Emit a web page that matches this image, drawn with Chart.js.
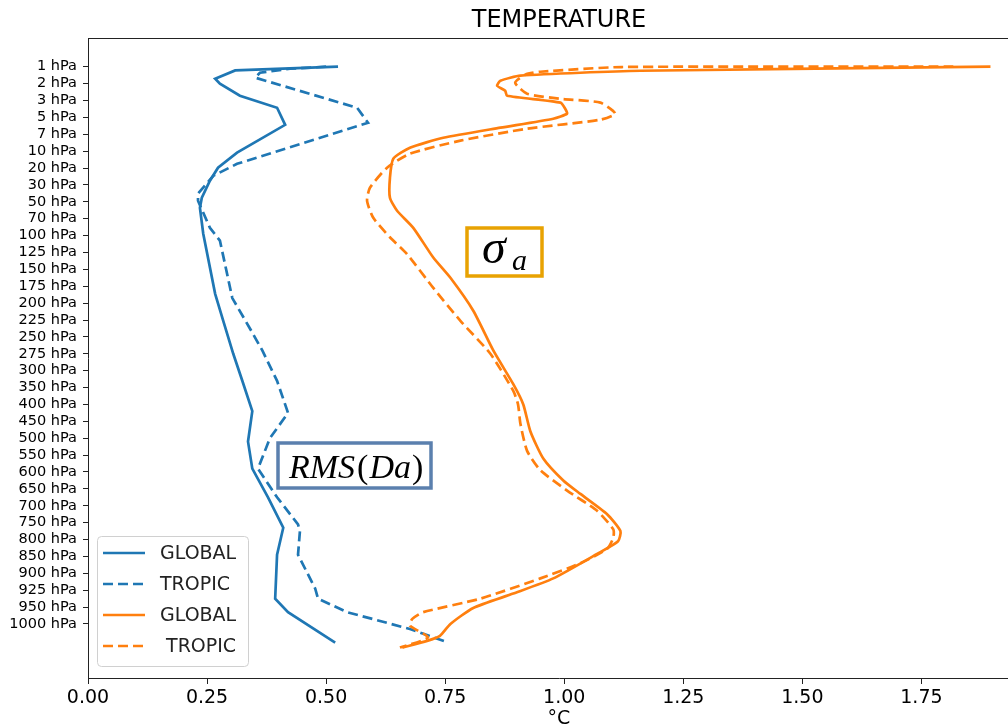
<!DOCTYPE html>
<html>
<head>
<meta charset="utf-8">
<script src="https://cdn.jsdelivr.net/npm/chart.js@4.4.1/dist/chart.umd.min.js"></script>
<style>
  html, body { margin: 0; padding: 0; background: #fff; overflow: hidden; }
  #wrap { width: 1008px; height: 726px; overflow: hidden; }
</style>
</head>
<body>
<div id="wrap"><canvas id="chart" width="1040" height="726"></canvas></div>
<script>
const levels = ['1 hPa', '2 hPa', '3 hPa', '5 hPa', '7 hPa', '10 hPa', '20 hPa', '30 hPa', '50 hPa', '70 hPa',
    '100 hPa', '125 hPa', '150 hPa', '175 hPa', '200 hPa', '225 hPa', '250 hPa', '275 hPa', '300 hPa', '350 hPa',
    '400 hPa', '450 hPa', '500 hPa', '550 hPa', '600 hPa', '650 hPa', '700 hPa', '750 hPa', '800 hPa', '850 hPa',
    '900 hPa', '925 hPa', '950 hPa', '1000 hPa'];

const xTicks = [0, 0.25, 0.5, 0.75, 1.0, 1.25, 1.5, 1.75];

// position along the level axis (0 = 1 hPa ... 33 = 1000 hPa) and value in °C
const rmsGlobalPos = [0, 0.22, 0.71, 1.01, 1.72, 2.43, 3.44, 5.09, 5.98, 6.75, 7.76, 8.35, 9.89, 13.45, 15.05,
    17.0, 18.6, 20.4, 22.2, 23.8, 25.5, 27.3, 28.9, 31.5, 32.3, 34.1];
const rmsGlobalVal = [0.525, 0.309, 0.267, 0.277, 0.319, 0.397, 0.414, 0.313, 0.273, 0.256, 0.239, 0.235, 0.242, 0.267, 0.284,
    0.305, 0.324, 0.345, 0.336, 0.345, 0.378, 0.410, 0.397, 0.393, 0.420, 0.519];

const rmsTropicPos = [0, 0.12, 0.36, 0.65, 2.43, 3.32, 5.75, 6.46, 7.52, 7.94, 9.54, 10.3, 13.7, 15.5, 16.8,
    18.6, 20.5, 22.0, 23.8, 25.5, 27.1, 27.5, 28.9, 30.9, 31.5, 32.3, 33.3, 34.1];
const rmsTropicVal = [0.50, 0.424, 0.361, 0.351, 0.565, 0.588, 0.313, 0.263, 0.231, 0.231, 0.256, 0.277, 0.303, 0.340, 0.366,
    0.397, 0.420, 0.382, 0.357, 0.397, 0.441, 0.445, 0.441, 0.477, 0.483, 0.544, 0.676, 0.756];

const sigmaGlobalPos = [0, 0.24, 0.53, 0.83, 1.13, 1.42, 1.72, 2.13, 2.49, 2.78, 3.08, 3.61, 4.21, 4.80, 5.45,
    6.58, 7.76, 8.53, 9.54, 11.3, 12.5, 14.45, 16.8, 18.8, 20.0, 21.6, 23.2, 24.5, 25.3, 26.5,
    27.5, 28.1, 28.85, 30.3, 31.2, 32.05, 33.0, 33.7, 34.0, 34.4];
const sigmaGlobalVal = [1.895, 1.160, 0.908, 0.866, 0.859, 0.876, 0.880, 0.992, 1.002, 1.006, 0.977, 0.866, 0.746, 0.676, 0.641,
    0.634, 0.634, 0.649, 0.683, 0.725, 0.761, 0.809, 0.851, 0.893, 0.914, 0.929, 0.956, 0.998, 1.034, 1.090,
    1.118, 1.113, 1.069, 0.977, 0.893, 0.809, 0.761, 0.739, 0.712, 0.660];

const sigmaTropicPos = [0, 0.02, 0.3, 0.47, 0.95, 1.6, 1.9, 2.13, 2.78, 3.14, 3.67, 4.38, 5.15, 5.98, 7.17,
    7.94, 8.95, 10.1, 11.1, 13.1, 15.05, 17.0, 19.2, 20.0, 21.15, 22.75, 23.9, 25.1, 26.3, 27.4,
    27.9, 28.55, 29.4, 30.3, 31.5, 32.3, 32.7, 33.1, 33.8, 34.4];
const sigmaTropicVal = [1.817, 1.12, 0.95, 0.918, 0.897, 0.922, 0.992, 1.076, 1.107, 1.076, 0.922, 0.782, 0.676, 0.628, 0.592,
    0.586, 0.599, 0.634, 0.670, 0.725, 0.782, 0.845, 0.893, 0.903, 0.908, 0.922, 0.950, 1.006, 1.069, 1.103,
    1.103, 1.090, 1.034, 0.950, 0.824, 0.704, 0.681, 0.676, 0.714, 0.655];

const BLUE = '#1f77b4';
const ORANGE = '#ff7f0e';
const FONT = "'DejaVu Sans', sans-serif";

function pts(vals, pos) {
    return vals.map((v, i) => ({ x: v, y: pos[i] }));
}

// title centred over the plot area, plus top/right spines
const frame = {
    id: 'frame',
    afterDraw(chart) {
        const { ctx, chartArea: a } = chart;
        ctx.save();
        ctx.strokeStyle = '#222';
        ctx.lineWidth = 1;
        ctx.beginPath();
        ctx.moveTo(a.left, a.top + 0.5);
        ctx.lineTo(a.right, a.top + 0.5);
        ctx.lineTo(a.right, a.bottom);
        ctx.stroke();
        ctx.fillStyle = '#000';
        ctx.font = '24px ' + FONT;
        ctx.textAlign = 'center';
        ctx.textBaseline = 'middle';
        ctx.fillText('TEMPERATURE', (a.left + a.right) / 2, 21);
        ctx.restore();
    }
};

// matplotlib-style legend box in the lower left corner
const legendBox = {
    id: 'legendBox',
    afterDraw(chart) {
        const { ctx, chartArea: a } = chart;
        const x0 = a.left + 9, y0 = a.bottom - 142, w = 151, h = 130;
        ctx.save();
        ctx.fillStyle = 'rgba(255,255,255,0.85)';
        ctx.strokeStyle = '#d0d0d0';
        ctx.lineWidth = 1;
        ctx.beginPath();
        ctx.roundRect(x0 + 0.5, y0 + 0.5, w, h, 4);
        ctx.fill();
        ctx.stroke();
        chart.data.datasets.forEach((ds, i) => {
            const y = y0 + 17 + 31 * i;
            ctx.strokeStyle = ds.borderColor;
            ctx.lineWidth = ds.borderWidth;
            ctx.setLineDash(ds.borderDash || []);
            ctx.beginPath();
            ctx.moveTo(x0 + 6, y);
            ctx.lineTo(x0 + 48, y);
            ctx.stroke();
            ctx.setLineDash([]);
            ctx.fillStyle = '#222';
            ctx.font = '19px ' + FONT;
            ctx.textBaseline = 'middle';
            ctx.fillText(ds.label, x0 + 63, y + 1);
        });
        ctx.restore();
    }
};

// the two boxed labels
const boxedLabels = {
    id: 'boxedLabels',
    afterDraw(chart) {
        const { ctx } = chart;
        ctx.save();
        ctx.lineWidth = 3.5;
        ctx.strokeStyle = '#e8a202';
        ctx.strokeRect(467, 228, 75, 48);
        ctx.fillStyle = '#000';
        ctx.textBaseline = 'alphabetic';
        ctx.font = "italic 48px 'Liberation Serif', serif";
        ctx.fillText('σ', 482, 263);
        ctx.font = "italic 30px 'Liberation Serif', serif";
        ctx.fillText('a', 512, 270);

        ctx.strokeStyle = '#5b80ae';
        ctx.strokeRect(278, 443, 153, 45);
        let x = 289;
        const parts = [['RMS', true, 2], ['(', false, 1], ['Da', true, 1], [')', false, 0]];
        parts.forEach(([t, it, gap]) => {
            ctx.font = (it ? 'italic ' : '') + "34px 'Liberation Serif', serif";
            ctx.fillText(t, x, 478);
            x += ctx.measureText(t).width + gap;
        });
        ctx.restore();
    }
};

const ctx = document.getElementById('chart').getContext('2d');
const chart = new Chart(ctx, {
    type: 'line',
    data: {
        datasets: [
            { label: 'GLOBAL', data: pts(rmsGlobalVal, rmsGlobalPos), borderColor: BLUE, borderWidth: 2.7, tension: 0, order: 4 },
            { label: 'TROPIC', data: pts(rmsTropicVal, rmsTropicPos), borderColor: BLUE, borderWidth: 2.7, borderDash: [10, 5], tension: 0, order: 3 },
            { label: 'GLOBAL', data: pts(sigmaGlobalVal, sigmaGlobalPos), borderColor: ORANGE, borderWidth: 2.7, tension: 0.2, order: 2 },
            { label: ' TROPIC', data: pts(sigmaTropicVal, sigmaTropicPos), borderColor: ORANGE, borderWidth: 2.7, borderDash: [10, 5], tension: 0.2, order: 1 }
        ]
    },
    options: {
        responsive: false,
        animation: false,
        devicePixelRatio: 1,
        layout: { padding: { top: 38, right: 10, left: 0, bottom: 0 } },
        elements: { point: { radius: 0 } },
        plugins: { legend: { display: false }, tooltip: { enabled: false } },
        scales: {
            x: {
                type: 'linear',
                min: 0,
                max: 1.978,
                afterBuildTicks: s => { s.ticks = xTicks.map(v => ({ value: v })); },
                afterFit: s => { s.height = 48; },
                ticks: { callback: v => v.toFixed(2), color: '#000', font: { family: FONT, size: 19 }, padding: 3, maxRotation: 0 },
                grid: { drawOnChartArea: false, tickLength: 6, color: '#222' },
                border: { color: '#222', width: 1 },
                title: { display: true, text: '°C', color: '#000', font: { family: FONT, size: 19 }, padding: { top: 0, bottom: -4 } }
            },
            y: {
                type: 'linear',
                reverse: true,
                min: -1.7,
                max: 36.2,
                afterBuildTicks: s => { s.ticks = levels.map((_, i) => ({ value: i })); },
                afterFit: s => { s.width = 88; },
                ticks: { autoSkip: false, callback: v => levels[v], color: '#000', font: { family: FONT, size: 14.5 }, padding: 6 },
                grid: { drawOnChartArea: false, tickLength: 5, color: '#222' },
                border: { color: '#222', width: 1 }
            }
        }
    },
    plugins: [frame, legendBox, boxedLabels]
});
</script>
</body>
</html>
